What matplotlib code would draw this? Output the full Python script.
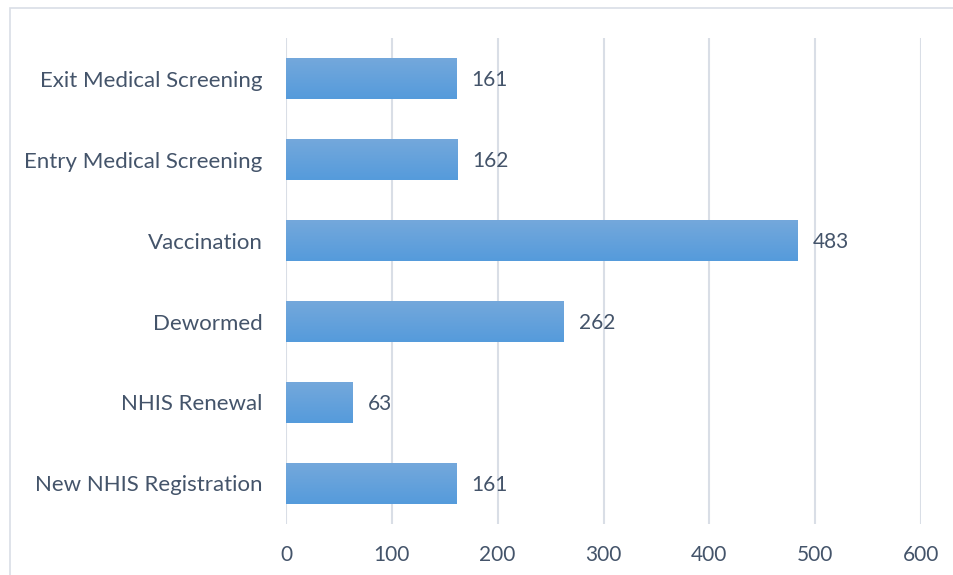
import matplotlib.pyplot as plt
import numpy as np
from matplotlib.patches import Rectangle
from matplotlib.colors import LinearSegmentedColormap

# Data
categories = ["New NHIS Registration", "NHIS Renewal", "Dewormed",
              "Vaccination", "Entry Medical Screening", "Exit Medical Screening"]
values = [161, 63, 262, 483, 162, 161]
x_ticks = [0, 100, 200, 300, 400, 500, 600]

text_color = "#44546A"
grid_color = "#D9DEE6"

plt.rcParams['font.family'] = ['Lato', 'DejaVu Sans']

fig = plt.figure(figsize=(9.54, 5.75), dpi=100)
ax = fig.add_axes([0.2998, 0.0887, 0.6656, 0.8452])

# frame around the chart (only top and left visible)
fig.patches.append(Rectangle((10 / 954, -0.1), 1.0, 1.1 - 8 / 575, transform=fig.transFigure,
                             fill=False, edgecolor=grid_color, linewidth=1.2))

y = np.arange(len(categories))
bars = ax.barh(y, values, height=0.5, color="#5E9FDC", zorder=2)

# vertical gradient on each bar (lighter at top)
grad = np.linspace(0, 1, 100).reshape(-1, 1)
cmap = LinearSegmentedColormap.from_list("bar", ["#559BDB", "#74A8DC"])
for b in bars:
    x0, y0 = b.get_x(), b.get_y()
    w, h = b.get_width(), b.get_height()
    im = ax.imshow(grad, cmap=cmap, aspect="auto", origin="lower",
                   extent=[x0, x0 + w, y0, y0 + h], zorder=3)
    im.set_clip_path(b)

for yi, v in zip(y, values):
    ax.annotate(str(v), (v, yi), xytext=(11, -1), textcoords="offset points",
                va="center", ha="left", fontsize=15, color=text_color)

ax.set_xlim(0, 600)
ax.set_ylim(-0.5, len(categories) - 0.5)
ax.set_xticks(x_ticks)
ax.set_yticks(y)
ax.set_yticklabels(categories)
ax.tick_params(axis="both", length=0, labelsize=15, labelcolor=text_color)
ax.tick_params(axis="y", pad=17, labelsize=16)
ax.tick_params(axis="x", pad=15)
ax.grid(axis="x", color=grid_color, linewidth=1.5, zorder=0)
ax.set_axisbelow(True)
for s in ax.spines.values():
    s.set_visible(False)

fig.savefig("out.png", dpi=100)
